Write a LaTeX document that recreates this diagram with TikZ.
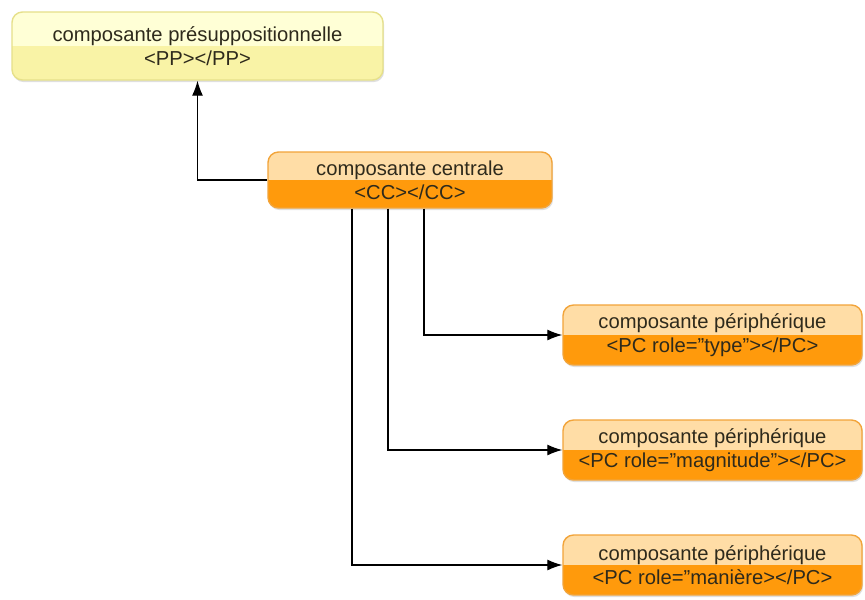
\documentclass[tikz,border=0pt]{standalone}
\usepackage{fontspec}
\setmainfont{Liberation Sans}
\usetikzlibrary{arrows.meta,calc,positioning,shadows}
\definecolor{Ink}{HTML}{2E2A1C}
\definecolor{PaleYellow}{HTML}{FFFFD6}
\definecolor{Yellow}{HTML}{F9F3A6}
\definecolor{YellowRim}{HTML}{E6E08A}
\definecolor{PaleOrange}{HTML}{FFDDA6}
\definecolor{Orange}{HTML}{FF9A0C}
\definecolor{OrangeRim}{HTML}{F2A43A}
\newcommand{\qt}{\symbol{34}}

\tikzset{
  halfbox/.style 2 args={draw=#2,line width=0.8pt,rounded corners=6pt,fill=#1,
    text=Ink,align=center,font=\fontsize{11.5}{13.5}\selectfont,
    drop shadow={shadow xshift=0.6pt,shadow yshift=-1.2pt,opacity=0.25},
    inner sep=0pt},
  lowerfill/.style={path picture={\fill[#1,sharp corners] (path picture bounding box.west) rectangle (path picture bounding box.south east);}},
  link/.style={-{Latex[length=3mm,width=2.2mm]},line width=0.7pt,black}
}

\begin{document}
\begin{tikzpicture}
  \useasboundingbox[fill=white] (0,0) rectangle (17.3,-11.98);
  % boxes
  \node[halfbox={PaleYellow}{YellowRim},lowerfill=Yellow,minimum width=7.42cm,minimum height=1.36cm] (pp) at (3.95,-0.92) {composante présuppositionnelle\\{<PP></PP>}};
  \node[halfbox={PaleOrange}{OrangeRim},lowerfill=Orange,minimum width=5.68cm,minimum height=1.12cm] (cc) at (8.2,-3.6) {composante centrale\\{<CC></CC>}};
  \node[halfbox={PaleOrange}{OrangeRim},lowerfill=Orange,minimum width=5.98cm,minimum height=1.2cm] (pctype) at (14.25,-6.7) {composante périphérique\\{<PC role=\qt type\qt></PC>}};
  \node[halfbox={PaleOrange}{OrangeRim},lowerfill=Orange,minimum width=5.98cm,minimum height=1.2cm] (pcmag) at (14.25,-9.0) {composante périphérique\\{<PC role=\qt magnitude\qt></PC>}};
  \node[halfbox={PaleOrange}{OrangeRim},lowerfill=Orange,minimum width=5.98cm,minimum height=1.2cm] (pcman) at (14.25,-11.3) {composante périphérique\\{<PC role=\qt manière></PC>}};
  % connectors
  \draw[link] (cc.west) -| (pp.south);
  \draw[link] ([xshift=0.28cm]cc.south) |- (pctype.west);
  \draw[link] ([xshift=-0.44cm]cc.south) |- (pcmag.west);
  \draw[link] ([xshift=-1.16cm]cc.south) |- (pcman.west);
\end{tikzpicture}
\end{document}
